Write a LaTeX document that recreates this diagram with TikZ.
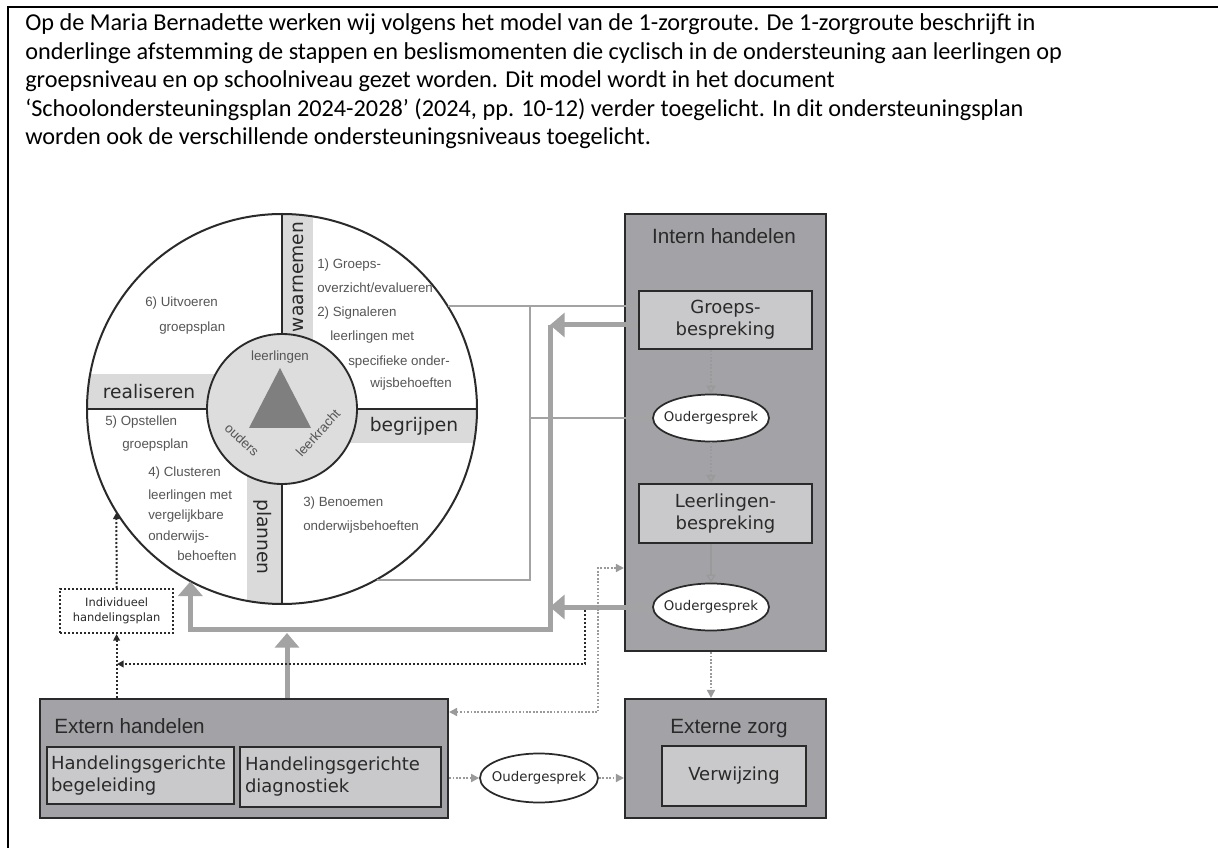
\documentclass[tikz,border=0pt]{standalone}
\usepackage{fontspec}
\setmainfont{Carlito}
\newfontfamily\arialf{Liberation Sans}
\newfontfamily\comicf{DejaVu Sans}
\usetikzlibrary{arrows.meta,shapes.geometric}
\def\u{0.75pt}
\definecolor{boxgray}{HTML}{A3A3A7}
\definecolor{lightbox}{HTML}{C9C9CB}
\definecolor{bandgray}{HTML}{DADADA}
\definecolor{innergray}{HTML}{DDDDDD}
\definecolor{trigray}{HTML}{7F7F7F}
\definecolor{arrowgray}{HTML}{A3A3A3}
\definecolor{txtgray}{HTML}{555555}
\definecolor{dotgray}{HTML}{9A9A9A}
\definecolor{bordercol}{HTML}{2A2A2A}
\tikzset{
  bigbox/.style={draw=bordercol, line width=1.6pt, fill=boxgray, inner sep=0},
  subbox/.style={draw=bordercol, line width=1.6pt, fill=lightbox, inner sep=0},
  comicbox/.style={font=\comicf\fontsize{13.5}{16.5}\selectfont, text=bordercol, align=center},
  ouder/.style={ellipse, draw=bordercol, line width=1.3pt, fill=white, minimum width=116*\u, minimum height=47*\u, inner sep=0, font=\comicf\fontsize{10}{12}\selectfont, text=bordercol},
  sect/.style={anchor=base west, inner sep=0, font=\arialf\fontsize{10}{12}\selectfont, text=txtgray},
  introline/.style={anchor=base west, inner sep=0, font=\fontsize{18.2}{21.4}\selectfont},
  bandlbl/.style={inner sep=0, font=\comicf\fontsize{14}{16}\selectfont, text=bordercol},
  boxtitle/.style={inner sep=0, font=\arialf\fontsize{15.5}{18}\selectfont, text=bordercol},
  thinline/.style={draw=arrowgray, line width=1.5pt},
  openhead/.style={-{Triangle[open,length=6pt,width=7pt]}},
  thickline/.style={draw=arrowgray, line width=3.75pt},
  thickhead/.style={-{Triangle[length=11pt,width=18pt]}},
  bdot/.style={draw=bordercol, line width=1.5pt, dash pattern=on 1.5pt off 1.5pt},
  bhead/.style={-{Triangle[length=5pt,width=5pt]}},
  gdot/.style={draw=dotgray, line width=1.3pt, dash pattern=on 1.3pt off 1.3pt},
  ghead/.style={-{Triangle[length=6pt,width=6pt]}},
}
\begin{document}
\begin{tikzpicture}[x=0.75pt,y=-0.75pt]
\useasboundingbox (0,0) rectangle (1218,848);
\draw[line width=1.5pt] (8,848) -- (8,7) -- (1218,7);

\node[introline] (p1) at (25,31) {Op de Maria Bernadette werken wij volgens het model van de 1-zorgroute. De 1-zorgroute beschrijft in};
\node[introline] (p2) at (25,59.5) {onderlinge afstemming de stappen en beslismomenten die cyclisch in de ondersteuning aan leerlingen op};
\node[introline] (p3) at (25,88) {groepsniveau en op schoolniveau gezet worden. Dit model wordt in het document};
\node[introline] (p4) at (25,116.5) {‘Schoolondersteuningsplan 2024-2028’ (2024, pp. 10-12) verder toegelicht. In dit ondersteuningsplan};
\node[introline] (p5) at (25,145) {worden ook de verschillende ondersteuningsniveaus toegelicht.};

% ---- circle ----
\node[circle, fill=white, minimum size=390*\u, inner sep=0] (outer) at (282,409) {};
\begin{scope}
\clip (282,409) circle[radius=195];
\fill[bandgray] (282,200) rectangle (313,409);
\fill[bandgray] (282,409) rectangle (490,443);
\fill[bandgray] (80,374) rectangle (282,409);
\fill[bandgray] (247,409) rectangle (282,620);
\end{scope}
\node[circle, draw=bordercol, line width=1.4pt, fill=innergray, minimum size=150*\u, inner sep=0] (inner) at (282,409) {};
\draw[bordercol, line width=1.4pt] (outer.north) -- (inner.north);
\draw[bordercol, line width=1.4pt] (outer.south) -- (inner.south);
\draw[bordercol, line width=1.4pt] (outer.east) -- (inner.east);
\draw[bordercol, line width=1.4pt] (outer.west) -- (inner.west);
\draw[bordercol, line width=1.5pt] (282,409) circle[radius=195];
\fill[trigray] (280,368) -- (249,428) -- (311,428) -- cycle;

\node[inner sep=0, font=\arialf\fontsize{10}{12}\selectfont, text=txtgray] (tl) at (280,357) {leerlingen};
\node[inner sep=0, font=\arialf\fontsize{10}{12}\selectfont, text=txtgray, rotate=-43] (to) at (242,440) {ouders};
\node[inner sep=0, font=\arialf\fontsize{10}{12}\selectfont, text=txtgray, rotate=48] (tk) at (318,433) {leerkracht};

\node[bandlbl, rotate=90] (bw) at (298,277) {waarnemen};
\node[bandlbl] (bb) at (414,426) {begrijpen};
\node[bandlbl] (br) at (149,392) {realiseren};
\node[bandlbl, rotate=-90] (bp) at (263,537) {plannen};

\node[sect] (s1a) at (317,269) {1) Groeps-};
\node[sect] (s1b) at (317,293) {overzicht/evalueren};
\node[sect] (s2a) at (317,317) {2) Signaleren};
\node[sect] (s2b) at (330,341) {leerlingen met};
\node[sect] (s2c) at (348,366) {specifieke onder-};
\node[sect] (s2d) at (370,388) {wijsbehoeften};
\node[sect] (s6a) at (145,307) {6) Uitvoeren};
\node[sect] (s6b) at (159,332) {groepsplan};
\node[sect] (s5a) at (105,426) {5) Opstellen};
\node[sect] (s5b) at (122,449) {groepsplan};
\node[sect] (s4a) at (148,477) {4) Clusteren};
\node[sect] (s4b) at (148,499) {leerlingen met};
\node[sect] (s4c) at (148,520) {vergelijkbare};
\node[sect] (s4d) at (148,541) {onderwijs-};
\node[sect] (s4e) at (177,561) {behoeften};
\node[sect] (s3a) at (303,507) {3) Benoemen};
\node[sect] (s3b) at (303,531) {onderwijsbehoeften};

% ---- right side ----
\node[bigbox, minimum width=201*\u, minimum height=437*\u] (IH) at (725.5,432.5) {};
\node[boxtitle] (IHt) at (724,236) {Intern handelen};
\node[subbox, comicbox, minimum width=173*\u, minimum height=58*\u] (G) at (725.5,320) {Groeps-\\bespreking};
\node[ouder] (O1) at (711,418) {\makebox[0pt]{Oudergesprek}};
\node[subbox, comicbox, minimum width=173*\u, minimum height=59*\u] (L) at (725.5,513.5) {Leerlingen-\\bespreking};
\node[ouder] (O2) at (711,607) {\makebox[0pt]{Oudergesprek}};

\node[bigbox, minimum width=201*\u, minimum height=119*\u] (EZ) at (725.5,758.5) {};
\node[boxtitle] (EZt) at (729,729) {Externe zorg};
\node[subbox, comicbox, minimum width=144*\u, minimum height=60*\u] (V) at (734,776) {Verwijzing};

\node[bigbox, minimum width=408*\u, minimum height=119*\u] (EH) at (244,758.5) {};
\node[boxtitle, anchor=west] (EHt) at (54,726) {Extern handelen};
\node[subbox, comicbox, align=left, text width=179*\u, inner xsep=4*\u, minimum height=57*\u] (HB) at (140.5,775.5) {Handelingsgerichte\\begeleiding};
\node[subbox, comicbox, align=left, text width=191*\u, inner xsep=5*\u, minimum height=60*\u] (HD) at (340.5,777) {Handelingsgerichte\\diagnostiek};
\node[ouder, minimum width=118*\u, minimum height=49*\u] (Ob) at (539,778) {\makebox[0pt]{Oudergesprek}};

\node[draw=bordercol, line width=1.5pt, dash pattern=on 1.5pt off 1.5pt, fill=white, minimum width=113*\u, minimum height=44*\u, inner sep=0, align=center, font=\comicf\fontsize{8.6}{11.2}\selectfont, text=bordercol] (IP) at (116.6,611) {Individueel\\handelingsplan};

% ---- connectors ----
\coordinate (vx) at (530,0);
\draw[thinline] (outer.-61) -- (outer.-61 -| vx) -- (vx |- outer.32);
\draw[thinline, openhead] (outer.32) -- (outer.32 -| G.west);
\draw[thinline, openhead] (vx |- O1.west) -- (O1.west);

\coordinate (tv) at (550,629);
\coordinate (ev) at (287,633);
\draw[thickline, thickhead] ([yshift=-5*\u]G.west) -- ([yshift=-5*\u]G.west -| tv);
\draw[thickline, thickhead, line join=miter] ([yshift=-5*\u]G.west -| tv) -- (tv) -| (outer.242);
\draw[thickline, thickhead] (O2.west) -- (O2.west -| tv);
\draw[thickline, thickhead] (EH.north -| ev) -- (ev);

\coordinate (bx) at (585,664);
\coordinate (ix) at (117,664);
\draw[bdot, bhead] ([yshift=-2.5pt]O2.west -| bx) -- (bx) -- (ix);
\draw[bdot, bhead] (EH.north -| IP) -- (IP.south);
\draw[bdot, bhead] (IP.north) -- (outer.212);

\coordinate (gx) at (598,712);
\coordinate (gy) at (598,568);
\draw[gdot, {Triangle[length=6pt,width=6pt]}-{Triangle[length=6pt,width=6pt]}] (EH.east |- gx) -- (gx) -- (gy) -- (gy -| IH.west);

\draw[gdot, openhead] (G.south -| O1) -- (O1.north);
\draw[gdot, openhead] (O1.south) -- (O1.south |- L.north);
\draw[draw=dotgray, line width=1pt, openhead] (L.south -| O2) -- (O2.north);
\draw[gdot, ghead] (IH.south -| O2) -- (EZ.north -| O2);
\draw[gdot, ghead] (EH.east |- Ob) -- (Ob.west);
\draw[gdot, ghead] (Ob.east) -- (Ob.east -| EZ.west);
\end{tikzpicture}
\end{document}
